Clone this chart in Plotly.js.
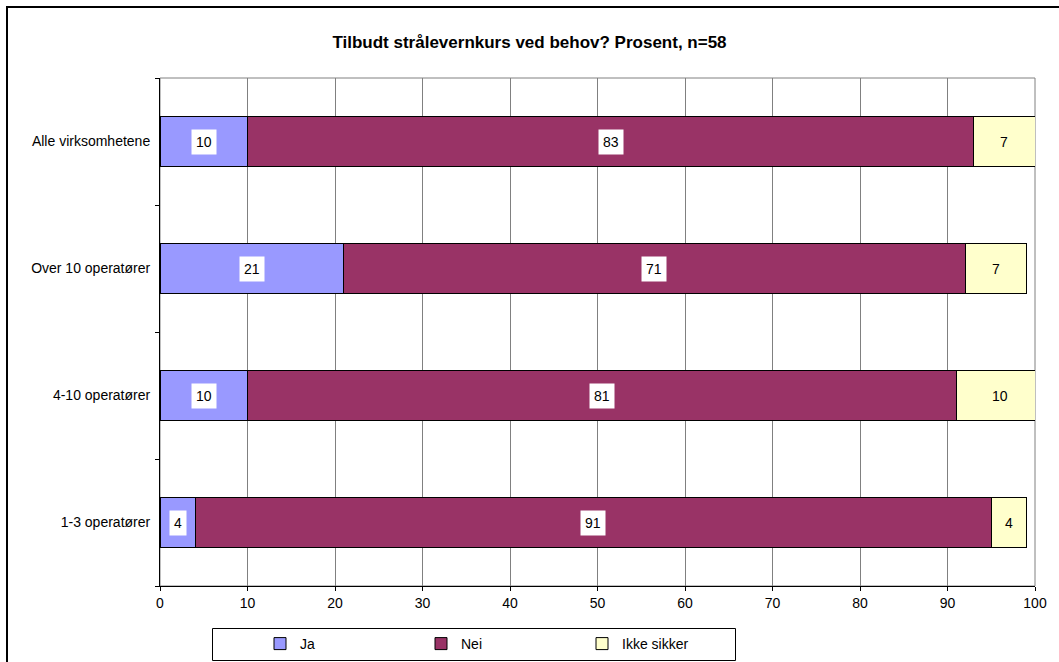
<!DOCTYPE html>
<html>
<head>
<meta charset="utf-8">
<script src="https://cdn.plot.ly/plotly-3.0.1.min.js"></script>
<style>html,body{margin:0;padding:0;background:#fff;}#chart{width:1059px;height:662px;}</style>
</head>
<body>
<div id="chart"></div>
<script>
const categories = ["1-3 operatører", "4-10 operatører", "Over 10 operatører", "Alle virksomhetene"];
const seriesNames = ["Ja", "Nei", "Ikke sikker"];
const ja = [4, 10, 21, 10];
const nei = [91, 81, 71, 83];
const ikkeSikker = [4, 10, 7, 7];
const xTicks = [0, 10, 20, 30, 40, 50, 60, 70, 80, 90, 100];
const colors = ["#9999FF", "#993366", "#FFFFCC"];
const labelBg = ["#FFFFFF", "#FFFFFF", "rgba(0,0,0,0)"];

const FONT = '"Liberation Sans", Arial, sans-serif';
const series = [ja, nei, ikkeSikker];

const traces = series.map((vals, i) => ({
  type: "bar",
  orientation: "h",
  name: seriesNames[i],
  y: categories,
  x: vals,
  width: 0.4,
  cliponaxis: false,
  marker: { color: colors[i], line: { color: "#000000", width: 1 } },
  hoverinfo: "x+y+name"
}));

const annotations = [];
categories.forEach((cat, ci) => {
  let base = 0;
  series.forEach((vals, si) => {
    const v = vals[ci];
    annotations.push({
      x: base + v / 2, y: cat, xref: "x", yref: "y",
      text: String(v), showarrow: false,
      font: { family: FONT, size: 14, color: "#000000" },
      bgcolor: labelBg[si], borderpad: 4
    });
    base += v;
  });
});

const L = 160, R = 24, T = 78, B = 76;
const W = 1059, H = 662;
const pw = W - L - R, ph = H - T - B;
const px = p => (p - L) / pw;
const py = p => (H - B - p) / ph;

const layout = {
  width: W, height: H,
  margin: { l: L, r: R, t: T, b: B, pad: 0 },
  paper_bgcolor: "#FFFFFF",
  plot_bgcolor: "#FFFFFF",
  font: { family: FONT, size: 14, color: "#000000" },
  barmode: "stack",
  title: {
    text: "<b>Tilbudt strålevernkurs ved behov? Prosent, n=58</b>",
    font: { family: FONT, size: 17, color: "#000000" },
    xref: "container", x: 0.5, xanchor: "center",
    yref: "container", y: 1 - 42 / H, yanchor: "middle"
  },
  xaxis: {
    range: [0, 100],
    tickvals: xTicks,
    ticktext: xTicks.map(String),
    showgrid: true, gridcolor: "#808080", gridwidth: 1,
    showline: true, linecolor: "#000000", linewidth: 1,
    ticks: "outside", ticklen: 4, tickcolor: "#000000",
    zeroline: false,
    tickfont: { family: FONT, size: 14 },
    fixedrange: true
  },
  yaxis: {
    categoryorder: "array", categoryarray: categories,
    showgrid: false,
    showline: true, linecolor: "#000000", linewidth: 1,
    ticks: "outside", ticklen: 4, tickcolor: "#000000",
    tickson: "boundaries",
    ticklabelstandoff: 6,
    tickfont: { family: FONT, size: 14 },
    fixedrange: true
  },
  showlegend: true,
  legend: {
    orientation: "h",
    xref: "container", yref: "container",
    x: 260 / W, xanchor: "left",
    y: 1 - 644 / H, yanchor: "middle",
    entrywidth: 116, entrywidthmode: "pixels",
    font: { family: FONT, size: 14 },
    bgcolor: "rgba(0,0,0,0)", borderwidth: 0,
    traceorder: "normal"
  },
  shapes: [
    { type: "rect", xref: "paper", yref: "paper", x0: 0, x1: 1, y0: 0, y1: 1,
      line: { color: "#808080", width: 1 }, layer: "below" },
    { type: "rect", xref: "paper", yref: "paper",
      x0: px(212.5), x1: px(735.5), y0: py(660.5), y1: py(628.5),
      line: { color: "#000000", width: 1 }, fillcolor: "rgba(0,0,0,0)" },
    { type: "rect", xref: "paper", yref: "paper",
      x0: px(7), x1: px(1070), y0: py(680), y1: py(7),
      line: { color: "#000000", width: 2 }, fillcolor: "rgba(0,0,0,0)" }
  ],
  annotations: annotations
};

Plotly.newPlot("chart", traces, layout, { displayModeBar: false, staticPlot: true });
</script>
</body>
</html>
